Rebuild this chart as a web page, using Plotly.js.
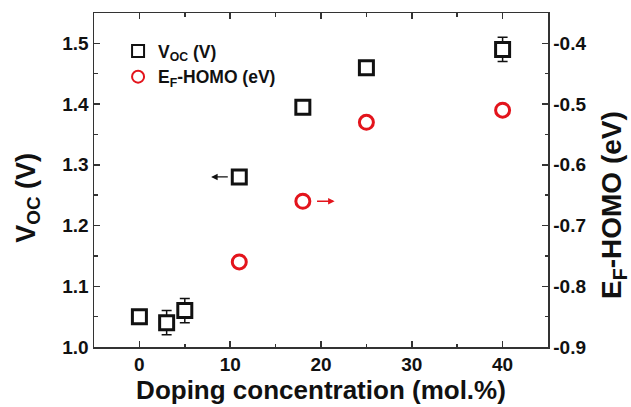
<!DOCTYPE html>
<html>
<head>
<meta charset="utf-8">
<script src="https://cdn.plot.ly/plotly-3.0.1.min.js"></script>
<style>html,body{margin:0;padding:0;background:#fff;}#chart{width:631px;height:407px;}</style>
</head>
<body>
<div id="chart"></div>
<script>
// Data
var vocX = [0, 3, 5, 11, 18, 25, 40];
var vocY = [1.05, 1.04, 1.06, 1.28, 1.395, 1.46, 1.49];
var vocErr = [0, 0.02, 0.02, 0, 0, 0, 0.02];
var efX = [11, 18, 25, 40];
var efY = [-0.76, -0.66, -0.53, -0.51];
var leftTickVals = [1.0, 1.1, 1.2, 1.3, 1.4, 1.5];
var leftTickText = ['1.0', '1.1', '1.2', '1.3', '1.4', '1.5'];
var rightTickVals = [-0.9, -0.8, -0.7, -0.6, -0.5, -0.4];
var rightTickText = ['-0.9', '-0.8', '-0.7', '-0.6', '-0.5', '-0.4'];
var xTickVals = [0, 10, 20, 30, 40];

var FONT = 'Arial, "Liberation Sans", Helvetica, sans-serif';
var AX = '#333333';
var RED = '#e3141c';

var traces = [
  {
    x: vocX, y: vocY, type: 'scatter', mode: 'markers', name: 'V<sub>OC</sub> (V)',
    marker: {symbol: 'square', size: 14, color: '#ffffff', line: {color: '#111111', width: 3}},
    error_y: {type: 'data', array: vocErr, visible: true, color: '#111111', thickness: 1.5, width: 5},
    yaxis: 'y'
  },
  {
    x: efX, y: efY, type: 'scatter', mode: 'markers', name: 'E<sub>F</sub>-HOMO (eV)',
    marker: {symbol: 'circle', size: 14, color: '#ffffff', line: {color: RED, width: 3}},
    yaxis: 'y2'
  }
];

var layout = {
  width: 631, height: 407,
  margin: {l: 94, r: 83, t: 13, b: 60},
  paper_bgcolor: '#ffffff', plot_bgcolor: '#ffffff',
  font: {family: FONT, color: '#111111'},
  showlegend: true,
  legend: {
    x: 0.053, y: 0.94, xanchor: 'left', yanchor: 'top',
    bgcolor: 'rgba(0,0,0,0)', itemsizing: 'constant',
    font: {family: FONT, size: 17.5, weight: 'bold', color: '#111111'},
    tracegroupgap: 0
  },
  xaxis: {
    range: [-5, 45], tickvals: xTickVals, showgrid: false, zeroline: false,
    showline: true, linecolor: AX, linewidth: 1.5, mirror: 'ticks',
    ticks: 'inside', ticklen: 6, tickwidth: 1.5, tickcolor: AX,
    minor: {ticks: 'inside', ticklen: 3.5, dtick: 5, tickwidth: 1.5, tickcolor: AX},
    tickfont: {family: FONT, size: 19, weight: 'bold', color: '#111111'},
    title: {text: 'Doping concentration (mol.%)', font: {family: FONT, size: 26, weight: 'bold', color: '#111111'}, standoff: 6}
  },
  yaxis: {
    range: [1.0, 1.55], tickvals: leftTickVals, ticktext: leftTickText, showgrid: false, zeroline: false,
    showline: true, linecolor: AX, linewidth: 1.5,
    ticks: 'inside', ticklen: 6, tickwidth: 1.5, tickcolor: AX,
    minor: {ticks: 'inside', ticklen: 3.5, dtick: 0.05, tick0: 1.0, tickwidth: 1.5, tickcolor: AX},
    tickfont: {family: FONT, size: 19, weight: 'bold', color: '#111111'}
  },
  yaxis2: {
    overlaying: 'y', side: 'right',
    range: [-0.9, -0.35], tickvals: rightTickVals, ticktext: rightTickText, showgrid: false, zeroline: false,
    showline: true, linecolor: AX, linewidth: 1.5,
    ticks: 'inside', ticklen: 6, tickwidth: 1.5, tickcolor: AX,
    minor: {ticks: 'inside', ticklen: 3.5, dtick: 0.05, tick0: -0.9, tickwidth: 1.5, tickcolor: AX},
    tickfont: {family: FONT, size: 19, weight: 'bold', color: '#111111'}
  },
  annotations: [
    {xref: 'paper', yref: 'paper', x: -0.146, y: 0.446, xanchor: 'center', yanchor: 'middle',
     textangle: -90, showarrow: false, text: 'V<sub>OC</sub> (V)',
     font: {family: FONT, size: 27, weight: 'bold', color: '#111111'}},
    {xref: 'paper', yref: 'paper', x: 1.143, y: 0.425, xanchor: 'center', yanchor: 'middle',
     textangle: -90, showarrow: false, text: 'E<sub>F</sub>-HOMO (eV)',
     font: {family: FONT, size: 28, weight: 'bold', color: '#111111'}},
    {xref: 'x', yref: 'y', axref: 'x', ayref: 'y', x: 7.9, y: vocY[3], ax: 9.9, ay: vocY[3],
     text: '', showarrow: true, arrowhead: 2, arrowsize: 1, arrowwidth: 1.3, arrowcolor: '#111111'},
    {xref: 'x', yref: 'y2', axref: 'x', ayref: 'y2', x: 21.5, y: efY[1], ax: 19.4, ay: efY[1],
     text: '', showarrow: true, arrowhead: 2, arrowsize: 1, arrowwidth: 1.3, arrowcolor: RED}
  ]
};

Plotly.newPlot('chart', traces, layout, {displayModeBar: false, staticPlot: true});
</script>
</body>
</html>
